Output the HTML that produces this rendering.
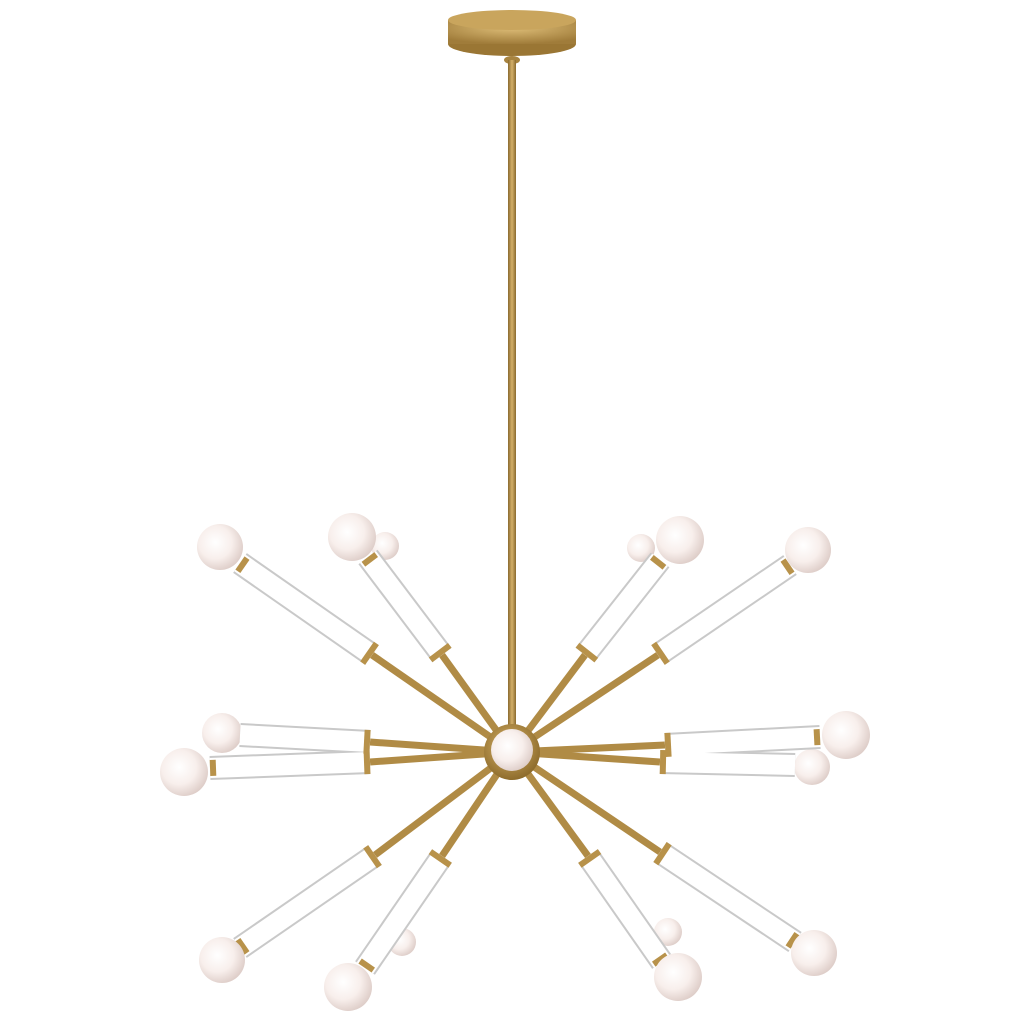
<!DOCTYPE html>
<html><head><style>html,body{margin:0;padding:0;background:#fff}svg{display:block}</style></head>
<body>
<svg width="1024" height="1024" viewBox="0 0 1024 1024" xmlns="http://www.w3.org/2000/svg">
<defs>
<radialGradient id="glb" cx="0.4" cy="0.4" r="0.65">
<stop offset="0" stop-color="#ffffff"/><stop offset="0.55" stop-color="#f8efec"/><stop offset="1" stop-color="#dccbc6"/>
</radialGradient>
<linearGradient id="brass" x1="0" y1="0" x2="1" y2="0">
<stop offset="0" stop-color="#8a6a2e"/><stop offset="0.5" stop-color="#d4b06a"/><stop offset="1" stop-color="#8a6a2e"/>
</linearGradient>
<radialGradient id="can" cx="0.5" cy="0.3" r="0.7">
<stop offset="0" stop-color="#e0c07a"/><stop offset="1" stop-color="#a07c3a"/>
</radialGradient>
<radialGradient id="hub" cx="0.45" cy="0.4" r="0.6">
<stop offset="0" stop-color="#d9b46a"/><stop offset="1" stop-color="#8e6c2c"/>
</radialGradient>
</defs>
<ellipse cx="512" cy="44" rx="64" ry="12" fill="#9a7634"/>
<rect x="448" y="20" width="128" height="24" fill="url(#can)"/>
<ellipse cx="512" cy="20" rx="64" ry="10" fill="#c9a55d"/>
<ellipse cx="512" cy="60" rx="8" ry="4" fill="#a88440"/>
<rect x="508" y="60" width="8" height="665" fill="url(#brass)"/>

<circle cx="385" cy="546" r="14" fill="url(#glb)"/>
<circle cx="641" cy="548" r="14" fill="url(#glb)"/>
<circle cx="402" cy="942" r="14" fill="url(#glb)"/>
<circle cx="668" cy="932" r="14" fill="url(#glb)"/>
<circle cx="812" cy="767" r="18" fill="url(#glb)"/>
<circle cx="222" cy="733" r="20" fill="url(#glb)"/>

<g stroke="#b08b45" stroke-width="7">
<line x1="512" y1="752" x2="372" y2="655"/>
<line x1="512" y1="752" x2="442" y2="655"/>
<line x1="512" y1="752" x2="585" y2="655"/>
<line x1="512" y1="752" x2="658" y2="655"/>
<line x1="512" y1="752" x2="370" y2="742"/>
<line x1="512" y1="752" x2="370" y2="762"/>
<line x1="512" y1="752" x2="665" y2="745"/>
<line x1="512" y1="752" x2="660" y2="762"/>
<line x1="512" y1="752" x2="375" y2="855"/>
<line x1="512" y1="752" x2="442" y2="856"/>
<line x1="512" y1="752" x2="588" y2="856"/>
<line x1="512" y1="752" x2="660" y2="852"/>
</g>
<!-- tube outline -->
<g stroke="#c9c9c9" stroke-width="24">
<line x1="372" y1="655" x2="240" y2="563"/>
<line x1="442" y1="655" x2="368" y2="557"/>
<line x1="585" y1="655" x2="660" y2="560"/>
<line x1="658" y1="655" x2="790" y2="565"/>
<line x1="370" y1="742" x2="240" y2="735"/>
<line x1="370" y1="762" x2="210" y2="768"/>
<line x1="665" y1="745" x2="820" y2="737"/>
<line x1="660" y1="762" x2="795" y2="765"/>
<line x1="375" y1="855" x2="240" y2="948"/>
<line x1="442" y1="856" x2="365" y2="968"/>
<line x1="588" y1="856" x2="662" y2="962"/>
<line x1="660" y1="852" x2="795" y2="942"/>
</g>
<g stroke="#ffffff" stroke-width="20">
<line x1="372" y1="655" x2="240" y2="563"/>
<line x1="442" y1="655" x2="368" y2="557"/>
<line x1="585" y1="655" x2="660" y2="560"/>
<line x1="658" y1="655" x2="790" y2="565"/>
<line x1="370" y1="742" x2="240" y2="735"/>
<line x1="370" y1="762" x2="210" y2="768"/>
<line x1="665" y1="745" x2="820" y2="737"/>
<line x1="660" y1="762" x2="795" y2="765"/>
<line x1="375" y1="855" x2="240" y2="948"/>
<line x1="442" y1="856" x2="365" y2="968"/>
<line x1="588" y1="856" x2="662" y2="962"/>
<line x1="660" y1="852" x2="795" y2="942"/>
</g>
<!-- rings at tube starts -->
<g stroke="#b8924a" stroke-width="24" stroke-dasharray="6 2000">
<line x1="372" y1="655" x2="240" y2="563"/>
<line x1="442" y1="655" x2="368" y2="557"/>
<line x1="585" y1="655" x2="660" y2="560"/>
<line x1="658" y1="655" x2="790" y2="565"/>
<line x1="370" y1="742" x2="240" y2="735"/>
<line x1="370" y1="762" x2="210" y2="768"/>
<line x1="665" y1="745" x2="820" y2="737"/>
<line x1="660" y1="762" x2="795" y2="765"/>
<line x1="375" y1="855" x2="240" y2="948"/>
<line x1="442" y1="856" x2="365" y2="968"/>
<line x1="588" y1="856" x2="662" y2="962"/>
<line x1="660" y1="852" x2="795" y2="942"/>
</g>
<!-- rings at tube ends -->
<g stroke="#b8924a" stroke-width="16" stroke-dasharray="6 2000">
<line x2="372" y2="655" x1="240" y1="563"/>
<line x2="442" y2="655" x1="368" y1="557"/>
<line x2="585" y2="655" x1="660" y1="560"/>
<line x2="658" y2="655" x1="790" y1="565"/>
<line x2="370" y2="762" x1="210" y1="768"/>
<line x2="665" y2="745" x1="820" y1="737"/>
<line x2="375" y2="855" x1="240" y1="948"/>
<line x2="442" y2="856" x1="365" y1="968"/>
<line x2="588" y2="856" x1="662" y1="962"/>
<line x2="660" y2="852" x1="795" y1="942"/>
</g>
<g fill="url(#glb)">
<circle cx="220" cy="547" r="23"/>
<circle cx="352" cy="537" r="24"/>
<circle cx="680" cy="540" r="24"/>
<circle cx="808" cy="550" r="23"/>
<circle cx="184" cy="772" r="24"/>
<circle cx="846" cy="735" r="24"/>
<circle cx="222" cy="960" r="23"/>
<circle cx="348" cy="987" r="24"/>
<circle cx="678" cy="977" r="24"/>
<circle cx="814" cy="953" r="23"/>
</g>
<circle cx="512" cy="752" r="28" fill="url(#hub)"/>
<circle cx="512" cy="750" r="21" fill="url(#glb)"/>
</svg>
</body></html>
